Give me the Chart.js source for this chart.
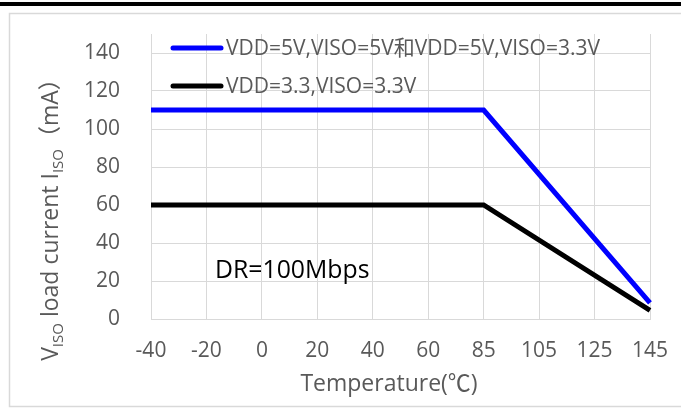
<!DOCTYPE html>
<html><head><meta charset="utf-8">
<script src="https://cdn.jsdelivr.net/npm/chart.js@4.4.1/dist/chart.umd.min.js"></script>
<style>html,body{margin:0;padding:0;background:#fff;}#wrap{width:681px;height:412px;position:relative;}</style>
</head><body><div id="wrap"><canvas id="c" width="681" height="412"></canvas></div>
<script>
const categories = ['-40','-20','0','20','40','60','85','105','125','145'];
const seriesNames = ['VDD=5V,VISO=5V和VDD=5V,VISO=3.3V','VDD=3.3,VISO=3.3V'];
const blueValues = [110,110,110,110,110,110,110,null,null,8.5];
const blackValues = [60,60,60,60,60,60,60,null,null,4.5];
const yTicks = [0,20,40,60,80,100,120,140];
const yMin = 0, yMax = 150;
const xTitle = 'Temperature(℃)';
const yTitleParts = [['V',0],['ISO',1],[' load current I',0],['ISO',1],['（mA）',0]];
const noteText = 'DR=100Mbps';

const FONT = "'Open Sans','Noto Sans CJK SC',sans-serif";
const GRAY = '#595959', GRID = '#d9d9d9';

const decor = {
  id: 'decor',
  beforeDraw(chart) {
    const ctx = chart.ctx;
    ctx.save();
    ctx.fillStyle = '#fff';
    ctx.fillRect(0, 0, chart.width, chart.height);
    ctx.strokeStyle = GRID; ctx.lineWidth = 1.5;
    ctx.strokeRect(9.5, 13.5, 700, 393);
    ctx.fillStyle = '#000';
    ctx.fillRect(0, 2, chart.width, 4);
    ctx.restore();
  },
  afterDraw(chart) {
    const ctx = chart.ctx;
    const ds = chart.data.datasets;
    ctx.save();
    const rows = [48, 86];
    ds.forEach((d, i) => {
      ctx.strokeStyle = d.borderColor; ctx.lineWidth = 5; ctx.lineCap = 'round';
      ctx.beginPath(); ctx.moveTo(173, rows[i]); ctx.lineTo(221, rows[i]); ctx.stroke();
      ctx.fillStyle = GRAY; ctx.font = '21px ' + FONT; ctx.textBaseline = 'middle'; ctx.textAlign = 'left';
      ctx.fillText(d.label, 226, rows[i] + 1);
    });
    ctx.fillStyle = '#000'; ctx.font = '24.8px ' + FONT; ctx.textBaseline = 'alphabetic';
    ctx.fillText(noteText, 215, 278);
    ctx.fillStyle = GRAY; ctx.font = '23px ' + FONT; ctx.textAlign = 'center';
    ctx.fillText(xTitle, 389, 391);
    ctx.translate(58, 214); ctx.rotate(-Math.PI / 2);
    ctx.textAlign = 'left';
    const big = '23px ' + FONT, small = '15px ' + FONT;
    let total = 0;
    yTitleParts.forEach(([t, s]) => { ctx.font = s ? small : big; total += ctx.measureText(t).width; });
    let x = -total / 2;
    yTitleParts.forEach(([t, s]) => {
      ctx.font = s ? small : big;
      ctx.fillText(t, x, s ? 5 : 0);
      x += ctx.measureText(t).width;
    });
    ctx.restore();
  }
};

new Chart(document.getElementById('c'), {
  type: 'line',
  data: {
    labels: categories,
    datasets: [
      { label: seriesNames[0], data: blueValues, borderColor: '#0000ff', borderWidth: 5, pointRadius: 0, spanGaps: true, tension: 0, borderJoinStyle: 'miter' },
      { label: seriesNames[1], data: blackValues, borderColor: '#000000', borderWidth: 5, pointRadius: 0, spanGaps: true, tension: 0, borderJoinStyle: 'miter' }
    ]
  },
  options: {
    responsive: false, devicePixelRatio: 1, animation: false,
    layout: { padding: { left: 0, top: 34, right: 31, bottom: 0 } },
    plugins: { legend: { display: false }, tooltip: { enabled: false } },
    scales: {
      x: {
        type: 'category', offset: false,
        grid: { color: GRID, lineWidth: 1, drawTicks: false },
        border: { color: GRID },
        ticks: { color: GRAY, font: { family: FONT, size: 21 }, padding: 19, maxRotation: 0, autoSkip: false },
        afterFit: s => { s.height = 93; s.paddingLeft = 0; s.paddingRight = 0; }
      },
      y: {
        min: yMin, max: yMax,
        grid: { color: GRID, lineWidth: 1, drawTicks: false },
        border: { display: false },
        ticks: { color: GRAY, font: { family: FONT, size: 21 }, padding: 31, autoSkip: false },
        afterBuildTicks: s => { s.ticks = yTicks.map(v => ({ value: v })); },
        afterFit: s => { s.width = 151; s.paddingTop = 0; s.paddingBottom = 0; }
      }
    }
  },
  plugins: [decor]
});
</script></body></html>
